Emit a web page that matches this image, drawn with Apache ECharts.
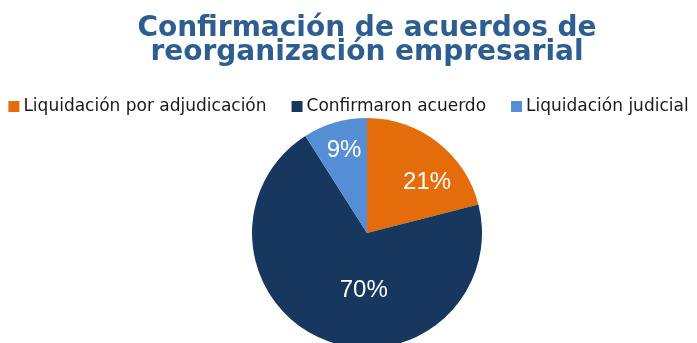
<!DOCTYPE html>
<html>
<head>
<meta charset="utf-8">
<script src="https://cdn.jsdelivr.net/npm/echarts@6/dist/echarts.min.js"></script>
<style>
  html, body { margin: 0; padding: 0; background: #ffffff; }
  #chart { width: 697px; height: 343px; }
</style>
</head>
<body>
<div id="chart"></div>
<script>
// Outcome categories and their shares (percent)
const categories = ['Liquidación por adjudicación', 'Confirmaron acuerdo', 'Liquidación judicial'];
const shares = [21, 70, 9];
const sliceColors = ['#E46C0A', '#17375E', '#558ED5'];
// Label nudges from the default inner position, one per slice
const labelOffsets = [[23, -3], [19, 1], [-6, -25]];

const chart = echarts.init(document.getElementById('chart'), null, { renderer: 'canvas' });

const pieData = categories.map((name, i) => ({
  name: name,
  value: shares[i],
  itemStyle: { color: sliceColors[i] },
  label: { offset: labelOffsets[i] }
}));

chart.setOption({
  animation: false,
  backgroundColor: '#ffffff',
  title: {
    text: 'Confirmación de acuerdos de\nreorganización empresarial',
    left: 362,
    textAlign: 'center',
    top: 12,
    textStyle: {
      fontFamily: 'DejaVu Sans, Verdana, sans-serif',
      fontWeight: 'bold',
      fontSize: 28,
      lineHeight: 24,
      color: '#2E5E8F'
    }
  },
  legend: {
    data: categories,
    top: 93,
    left: 'center',
    itemWidth: 11,
    itemHeight: 11,
    itemGap: 25,
    icon: 'rect',
    textStyle: {
      fontFamily: 'DejaVu Sans, Verdana, sans-serif',
      fontSize: 17,
      color: '#1A1A1A',
      padding: [0, 0, 0, -1]
    }
  },
  series: [{
    type: 'pie',
    center: [367, 233],
    radius: 115,
    startAngle: 90,
    clockwise: true,
    silent: true,
    label: {
      show: true,
      position: 'inside',
      formatter: '{c}%',
      color: '#ffffff',
      fontFamily: 'Liberation Sans, Arial, sans-serif',
      fontSize: 24
    },
    labelLine: { show: false },
    itemStyle: { borderWidth: 0 },
    emphasis: { disabled: true },
    data: pieData
  }]
});
</script>
</body>
</html>
